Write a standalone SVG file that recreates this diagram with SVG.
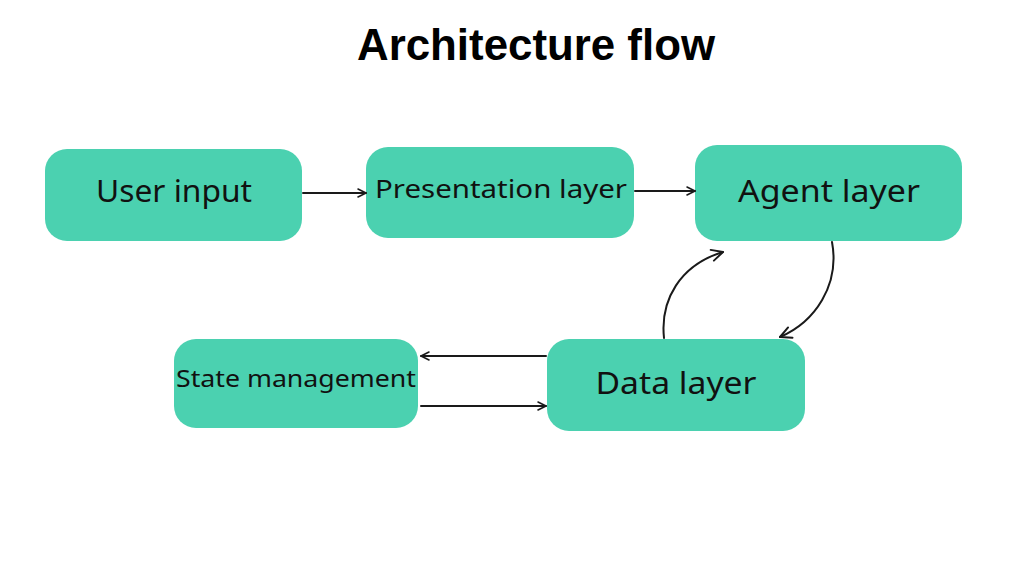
<svg xmlns="http://www.w3.org/2000/svg" width="1019" height="567" viewBox="0 0 1019 567">
<style>
.node{fill:#4bd1b0}
.lbl{font-family:"Noto Sans","Liberation Sans",sans-serif;fill:#111;text-anchor:middle;dominant-baseline:central}
.title{font-family:"Liberation Sans",Arial,sans-serif;font-weight:bold;font-size:44px;fill:#000;text-anchor:middle}
.edge{fill:none;stroke:#1a1a1a;stroke-width:2;stroke-linecap:round}
</style>
<defs>
<marker id="ah" viewBox="0 0 10 10" refX="9" refY="5" markerWidth="10" markerHeight="10" markerUnits="userSpaceOnUse" orient="auto">
<path d="M1,1 L9,5 L1,9" fill="none" stroke="#1a1a1a" stroke-width="1.6" stroke-linecap="round" stroke-linejoin="round"/>
</marker>
<marker id="ah2" viewBox="0 0 10 10" refX="9" refY="5" markerWidth="14" markerHeight="14" markerUnits="userSpaceOnUse" orient="auto">
<path d="M1,1 L9,5 L1,9" fill="none" stroke="#1a1a1a" stroke-width="1.4" stroke-linecap="round" stroke-linejoin="round"/>
</marker>
</defs>
<rect width="1019" height="567" fill="#fff"/>
<text class="title" x="536" y="60" textLength="358" lengthAdjust="spacingAndGlyphs">Architecture flow</text>
<g id="user-input"><rect class="node" x="45" y="149" width="257" height="92" rx="22"/><text class="lbl" x="174" y="190" font-size="30" textLength="156" lengthAdjust="spacingAndGlyphs">User input</text></g>
<g id="presentation-layer"><rect class="node" x="366" y="147" width="268" height="91" rx="22"/><text class="lbl" x="501" y="188" font-size="25" textLength="252" lengthAdjust="spacingAndGlyphs">Presentation layer</text></g>
<g id="agent-layer"><rect class="node" x="695" y="145" width="267" height="96" rx="22"/><text class="lbl" x="829" y="190" font-size="31" textLength="182" lengthAdjust="spacingAndGlyphs">Agent layer</text></g>
<g id="state-management"><rect class="node" x="174" y="339" width="244" height="89" rx="22"/><text class="lbl" x="296" y="378" font-size="23" textLength="240" lengthAdjust="spacingAndGlyphs">State management</text></g>
<g id="data-layer"><rect class="node" x="547" y="339" width="258" height="92" rx="22"/><text class="lbl" x="676" y="382" font-size="30" textLength="161" lengthAdjust="spacingAndGlyphs">Data layer</text></g>
<g id="connectors">
<path class="edge" d="M303,193 L366,193" marker-end="url(#ah)"/>
<path class="edge" d="M635,191 L695,191" marker-end="url(#ah)"/>
<path class="edge" d="M546,356 L421,356" marker-end="url(#ah)"/>
<path class="edge" d="M421,406 L546,406" marker-end="url(#ah)"/>
<path class="edge" d="M664,338 C660,300 680,265 723,252" marker-end="url(#ah2)"/>
<path class="edge" d="M832,242 C840,285 815,322 780,337" marker-end="url(#ah2)"/>
</g>
</svg>
